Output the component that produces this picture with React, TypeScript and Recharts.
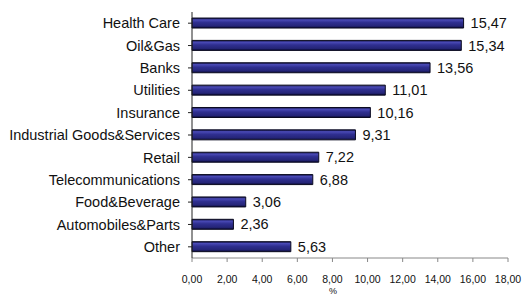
import React from 'react';
import { BarChart, Bar, XAxis, YAxis, LabelList } from 'recharts';

const sectors = [
  'Health Care',
  'Oil&Gas',
  'Banks',
  'Utilities',
  'Insurance',
  'Industrial Goods&Services',
  'Retail',
  'Telecommunications',
  'Food&Beverage',
  'Automobiles&Parts',
  'Other',
];
const weights = [15.47, 15.34, 13.56, 11.01, 10.16, 9.31, 7.22, 6.88, 3.06, 2.36, 5.63];
const xTicks = [0, 2, 4, 6, 8, 10, 12, 14, 16, 18];

const fmt = (v: number) => v.toFixed(2).replace('.', ',');

const App: React.FC = () => {
  const data = sectors.map((name, i) => ({ name, value: weights[i] }));

  return (
    <div style={{ position: 'absolute', left: 0, top: 0, background: '#fff', fontFamily: 'Arimo, "Liberation Sans", Arial, sans-serif' }}>
      <BarChart
        width={524}
        height={296}
        data={data}
        layout="vertical"
        margin={{ top: 12, right: 16, bottom: 8, left: 0 }}
        barCategoryGap="27%"
      >
        <defs>
          <linearGradient id="barFill" x1="0" y1="0" x2="0" y2="1">
            <stop offset="0%" stopColor="#101040" />
            <stop offset="18%" stopColor="#4a4ab6" />
            <stop offset="45%" stopColor="#2f2f90" />
            <stop offset="80%" stopColor="#252578" />
            <stop offset="100%" stopColor="#0a0a34" />
          </linearGradient>
        </defs>
        <XAxis
          type="number"
          domain={[0, 18]}
          ticks={xTicks}
          tickFormatter={fmt}
          interval={0}
          height={30}
          stroke="#888"
          tickSize={4}
          tick={{ fill: '#111', fontSize: 10.5 }}
          tickMargin={14}
          label={{ value: '%', position: 'insideBottom', offset: -6, dx: -17, fontSize: 9, fill: '#111' }}
        />
        <YAxis
          type="category"
          dataKey="name"
          width={192}
          stroke="#222"
          tickSize={4}
          tickMargin={8}
          interval={0}
          tick={{ fill: '#111', fontSize: 14.5 }}
        />
        <Bar
          dataKey="value"
          fill="url(#barFill)"
          stroke="#0a0a20"
          strokeWidth={1}
          isAnimationActive={false}
        >
          <LabelList
            dataKey="value"
            position="right"
            offset={7}
            formatter={(v: any) => fmt(Number(v))}
            style={{ fill: '#111', fontSize: 14.5 }}
          />
        </Bar>
      </BarChart>
    </div>
  );
};

export default App;
